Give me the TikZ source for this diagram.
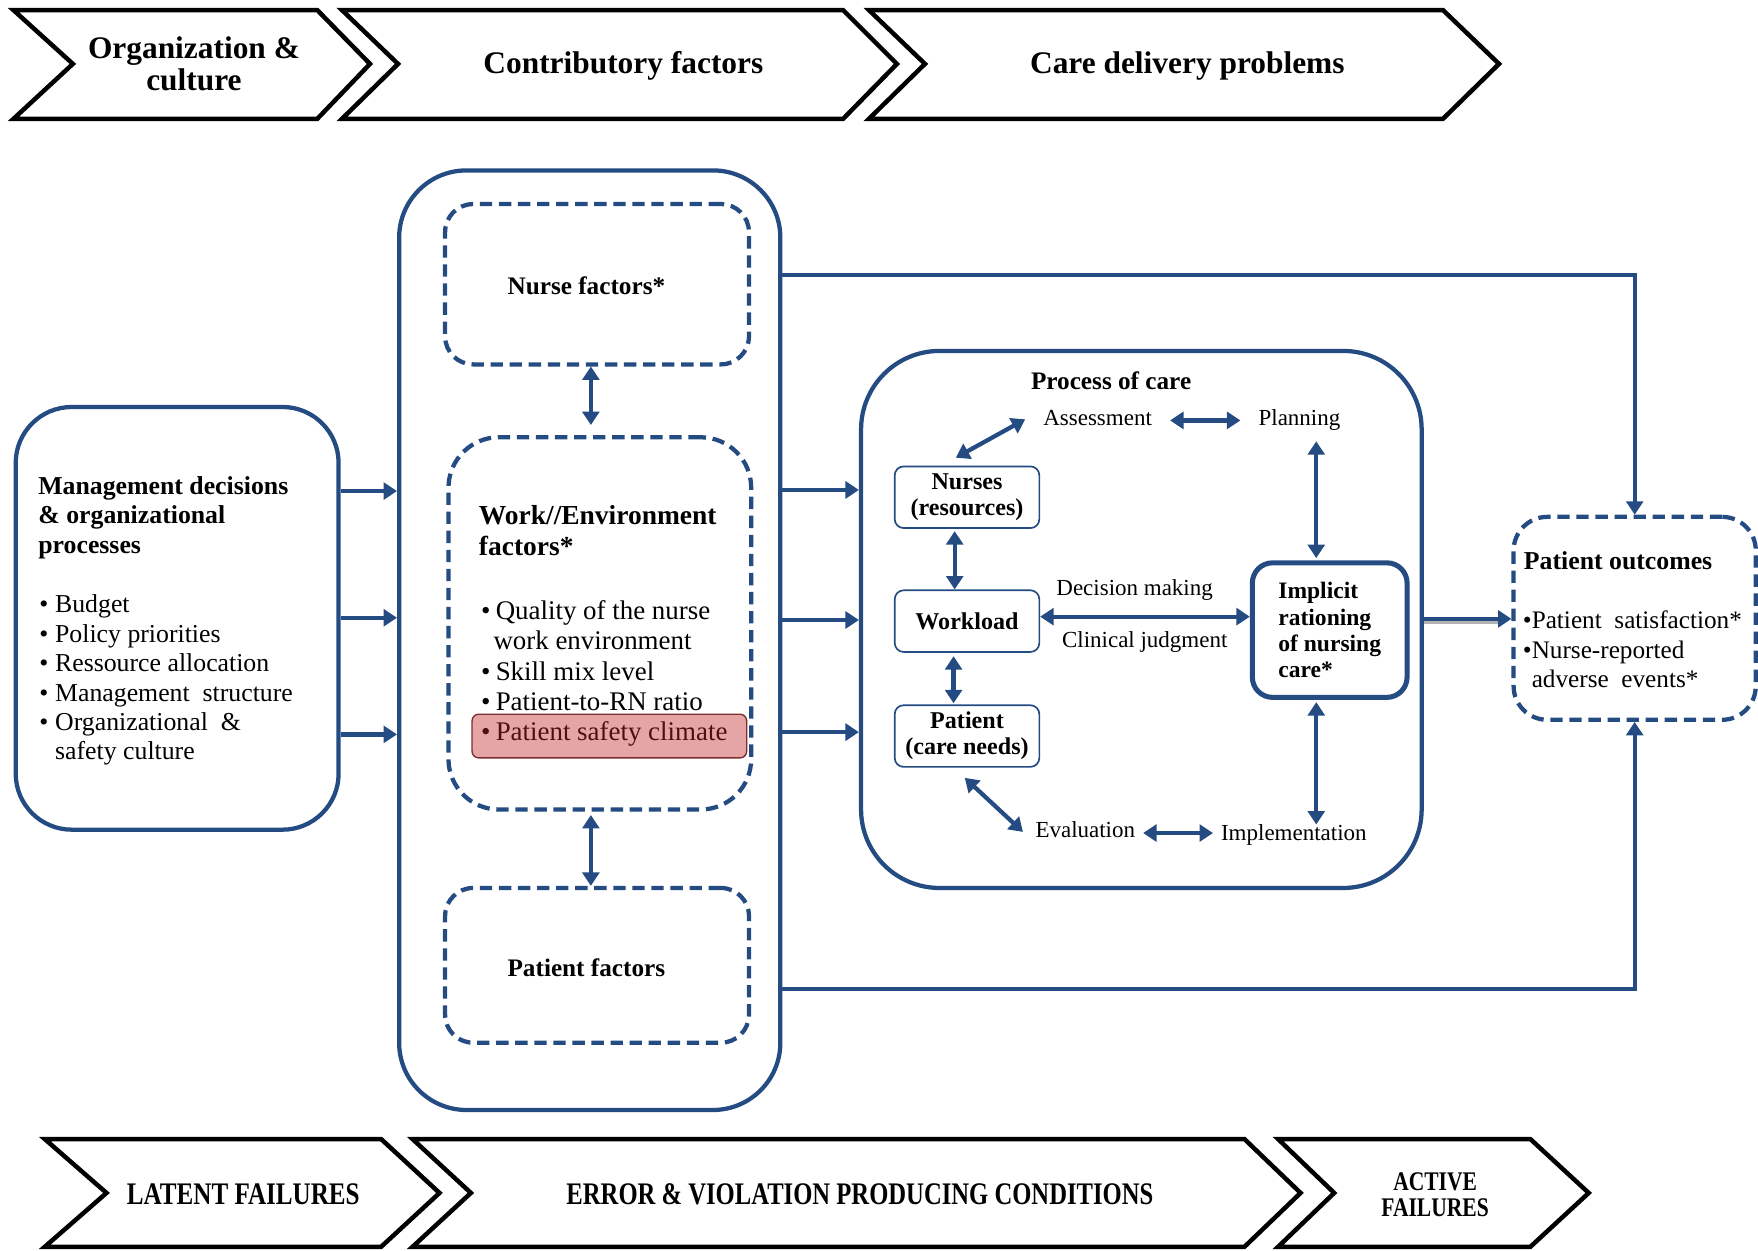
\documentclass[tikz,border=0pt]{standalone}
\usepackage{fontspec}
\setmainfont{Liberation Serif}
\usepackage{graphicx}
\usetikzlibrary{arrows.meta,calc}
\definecolor{nblue}{RGB}{36,76,130}
\definecolor{pinkfill}{RGB}{230,165,165}
\definecolor{pinkdraw}{RGB}{125,45,45}
\definecolor{pinktext}{RGB}{80,15,15}
\newcommand{\myfs}[2]{\fontsize{#1}{#2}\selectfont}
\newcommand{\bul}[1]{\makebox[#1pt][l]{\textbullet}}
\begin{document}
\begin{tikzpicture}[x=1pt,y=-1pt,
  chev/.style={draw=black,line width=4pt,line join=miter},
  chevtext/.style={font=\myfs{28}{29}\bfseries,align=center,inner sep=0},
  bigbox/.style={draw=nblue,line width=3.8pt,rounded corners=#1,inner sep=0},
  dbox/.style={draw=nblue,line width=3.8pt,rounded corners=#1,inner sep=0,dash pattern=on 11pt off 6pt},
  sbox/.style={draw=nblue,line width=1.5pt,rounded corners=8pt,inner sep=0,minimum width=129pt,minimum height=55pt,align=center,font=\myfs{21.5}{23}\bfseries},
  lbl/.style={inner sep=0,font=\myfs{20.5}{23},text height=0.68em,text depth=0.2em},
  txt/.style={inner sep=0,align=left,anchor=north west},
  arr/.style={draw=nblue,line width=3.8pt,-{Triangle[length=12pt,width=15pt]}},
  darr/.style={draw=nblue,line width=3.8pt,{Triangle[length=12pt,width=15pt]}-{Triangle[length=12pt,width=15pt]}}
]
\useasboundingbox (0,0) rectangle (1568,1115);

% ---------- top chevrons ----------
\draw[chev] (12,9) -- (283,9) -- (330,57) -- (283,106) -- (12,106) -- (65,57) -- cycle;
\draw[chev] (305,9) -- (752,9) -- (800,57) -- (752,106) -- (305,106) -- (355,57) -- cycle;
\draw[chev] (775,9) -- (1287,9) -- (1337,57) -- (1287,106) -- (775,106) -- (825,57) -- cycle;
\node[chevtext] (t1) at (173,57) {Organization \&\\culture};
\node[chevtext] (t2) at (556,59) {Contributory factors};
\node[chevtext] (t3) at (1059,59) {Care delivery problems};

% ---------- bottom chevrons ----------
\draw[chev] (40,1016) -- (340,1016) -- (392,1064) -- (340,1112) -- (40,1112) -- (95,1064) -- cycle;
\draw[chev] (368,1016) -- (1110,1016) -- (1160,1064) -- (1110,1112) -- (368,1112) -- (420,1064) -- cycle;
\draw[chev] (1140,1016) -- (1365,1016) -- (1417,1064) -- (1365,1112) -- (1140,1112) -- (1190,1064) -- cycle;
\node[chevtext] (b1) at (217,1065) {\scalebox{0.8}[1]{LATENT FAILURES}};
\node[chevtext] (b2) at (767,1065) {\scalebox{0.785}[1]{ERROR \& VIOLATION PRODUCING CONDITIONS}};
\node[chevtext,font=\myfs{24}{23}\bfseries] (b3) at (1280,1065.5) {\scalebox{0.8}[1]{ACTIVE}\\\scalebox{0.8}[1]{FAILURES}};

% ---------- management box ----------
\node[bigbox=50pt,minimum width=288pt,minimum height=377pt] (mgmt) at (158,551.5) {};
\node[txt,font=\myfs{23}{26.5}\bfseries] (mgtitle) at (34,424.5) {Management decisions\\\& organizational\\processes};
\node[txt,font=\myfs{23}{26.2}] (mglist) at (35,530.5) {\bul{14}Budget\\\bul{14}Policy priorities\\\bul{14}Ressource allocation\\\bul{14}Management\ \ structure\\\bul{14}Organizational\ \ \&\\\makebox[14pt]{}safety culture};

% ---------- contributory box ----------
\node[bigbox=60pt,minimum width=340pt,minimum height=838pt] (contrib) at (526,571) {};
\node[dbox=25pt,minimum width=271pt,minimum height=143pt] (nurse) at (532.5,253.5) {};
\node[inner sep=0,font=\myfs{22.5}{26}\bfseries] (nursetext) at (523,255) {Nurse factors*};
\node[dbox=45pt,minimum width=270pt,minimum height=332pt] (work) at (535,556) {};
\node[draw=pinkdraw,fill=pinkfill,line width=1.2pt,rounded corners=6pt,minimum width=245pt,minimum height=39pt,inner sep=0] (psc) at (543.5,656.5) {};
\node[txt,font=\myfs{24.5}{27}\bfseries] (wetitle) at (427,451) {Work//Environment\\factors*};
\node[txt,font=\myfs{24}{27}] (welist) at (429,535.5) {\bul{13}Quality of the nurse\\\makebox[11pt]{}work environment\\\bul{13}Skill mix level\\\bul{13}Patient-to-RN ratio\\\textcolor{pinktext}{\bul{13}Patient safety climate}};
\node[dbox=25pt,minimum width=271pt,minimum height=138pt] (patf) at (532.5,861) {};
\node[inner sep=0,font=\myfs{22.5}{26}\bfseries] (pattext) at (523,863) {Patient factors};
\draw[darr] (nurse.south -| 527,0) -- ($(work.north -| 527,0)+(0,-9)$);
\draw[darr] ($(work.south -| 527,0)+(0,3)$) -- (patf.north -| 527,0);

% ---------- process of care ----------
\node[bigbox=70pt,minimum width=500pt,minimum height=479pt] (process) at (1018,552.5) {};
\node[inner sep=0,font=\myfs{22.5}{26}\bfseries,text height=0.68em,text depth=0.2em] (ptitle) at (991,345) {Process of care};
\node[lbl] (assess) at (979,377) {Assessment};
\node[lbl] (plan) at (1159,377) {Planning};
\node[lbl] (dec) at (1012,528.5) {Decision making};
\node[lbl] (clin) at (1021,575) {Clinical judgment};
\node[lbl] (eval) at (968,745) {Evaluation};
\node[lbl] (impl) at (1154,747) {Implementation};
\node[sbox] (nurses) at (862.5,443.5) {Nurses\\(resources)};
\node[sbox] (workload) at (862.5,554) {Workload};
\node[sbox] (patient) at (862.5,656.5) {Patient\\(care needs)};
\node[draw=nblue,line width=4.5pt,rounded corners=18pt,minimum width=138pt,minimum height=120pt,inner sep=0,align=left,font=\myfs{21}{23.3}\bfseries] (implicit) at (1186,562) {Implicit\\rationing\\of nursing\\care*};

\coordinate (xpi) at (1174,0);
\coordinate (ydm) at (0,550);
\draw[darr] ($(assess.east)+(16,-2)$) -- ($(plan.west)+(-16,-2)$);
\draw[darr] ($(nurses.north)+(-10,-7)$) -- ($(assess.west)+(-16,-3)$);
\draw[darr] ($(nurses.south)+(-11,2)$) -- ($(workload.north)+(-11,0)$);
\draw[darr] ($(workload.south)+(-12,3)$) -- ($(patient.north)+(-12,-1)$);
\draw[darr] ($(patient.south)+(-2,9)$) -- ($(eval.west)+(-11,-3)$);
\draw[darr] ($(eval.east)+(7,-2)$) -- ($(impl.west)+(-7,-4)$);
\draw[darr] (workload.east |- ydm) -- (implicit.west |- ydm);
\draw[darr] ($(xpi |- plan.south)+(0,12)$) -- ($(xpi |- implicit.north)+(0,-2)$);
\draw[darr] ($(xpi |- implicit.south)+(0,2)$) -- ($(xpi |- impl.north)+(0,-7)$);

% ---------- patient outcomes ----------
\node[dbox=30pt,minimum width=216pt,minimum height=181pt] (outcomes) at (1458,551.5) {};
\node[txt,font=\myfs{23}{26.5}\bfseries] (otitle) at (1359,491.5) {Patient outcomes};
\node[txt,font=\myfs{22.5}{26.5}] (olist) at (1358,544.5) {\bul{8}Patient\ \ satisfaction*\\\bul{8}Nurse-reported\\\makebox[8pt]{}adverse\ \ events*};

% ---------- connectors ----------
\coordinate (ya) at (0,438);
\coordinate (yb) at (0,551);
\coordinate (yc) at (0,655);
\draw[arr] (mgmt.east |- ya) -- (contrib.west |- ya);
\draw[arr] (mgmt.east |- yb) -- (contrib.west |- yb);
\draw[arr] (mgmt.east |- yc) -- (contrib.west |- yc);
\coordinate (yd) at (0,437);
\coordinate (ye) at (0,553);
\coordinate (yf) at (0,653);
\draw[arr] (contrib.east |- yd) -- (process.west |- yd);
\draw[arr] (contrib.east |- ye) -- (process.west |- ye);
\draw[arr] (contrib.east |- yf) -- (process.west |- yf);
\coordinate (ytop) at (0,245);
\coordinate (ybot) at (0,882);
\draw[arr] (contrib.east |- ytop) -| (outcomes.north);
\draw[arr] (contrib.east |- ybot) -| (outcomes.south);
\coordinate (yo) at (0,552);
\coordinate (s1) at (process.east |- yo);
\coordinate (s2) at (outcomes.west |- yo);
\draw[black!30,line width=3pt] ($(s1)+(0,3)$) -- ($(s2)+(-10,3)$);
\draw[arr] (s1) -- (s2);
\end{tikzpicture}
\end{document}
